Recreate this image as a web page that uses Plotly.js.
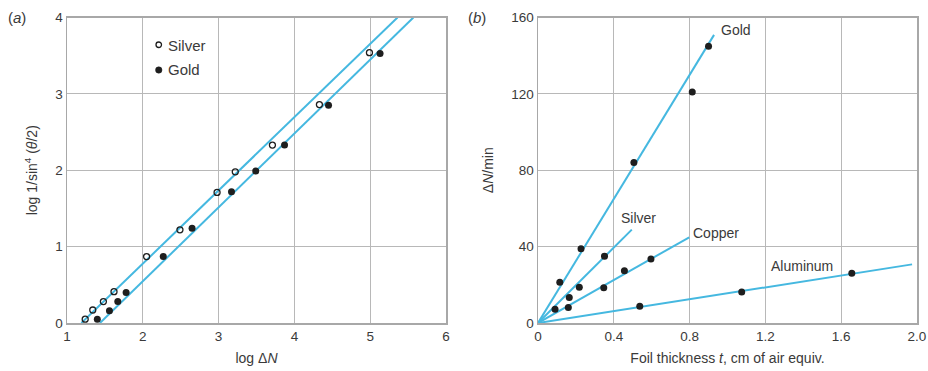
<!DOCTYPE html>
<html>
<head>
<meta charset="utf-8">
<script src="https://cdn.plot.ly/plotly-3.0.1.min.js"></script>
<style>html,body{margin:0;padding:0;background:#fff}#chart{width:928px;height:371px}</style>
</head>
<body>
<div id="chart"></div>
<script>
// Panel (a): log(1/sin^4(theta/2)) vs log ΔN
const silverLogN = [1.24, 1.34, 1.48, 1.62, 2.05, 2.49, 2.98, 3.22, 3.71, 4.33, 4.99];
const silverLogS = [0.05, 0.17, 0.28, 0.41, 0.87, 1.22, 1.71, 1.98, 2.33, 2.86, 3.54];
const goldLogN = [1.40, 1.56, 1.67, 1.78, 2.27, 2.65, 3.17, 3.49, 3.87, 4.45, 5.13];
const goldLogS = [0.05, 0.16, 0.28, 0.40, 0.87, 1.24, 1.72, 1.99, 2.33, 2.85, 3.53];
const silverFitX = [1.19, 5.36];
const silverFitY = [0, 4];
const goldFitX = [1.435, 5.57];
const goldFitY = [0, 4];
const legendNames = ['Silver', 'Gold'];

// Panel (b): ΔN/min vs foil thickness
const goldT = [0.115, 0.227, 0.506, 0.814, 0.900];
const goldRate = [21.3, 38.9, 84.0, 121.0, 145.0];
const silverT = [0.090, 0.165, 0.218, 0.351];
const silverRate = [7.2, 13.4, 18.7, 35.0];
const copperT = [0.160, 0.347, 0.456, 0.596];
const copperRate = [8.1, 18.5, 27.4, 33.5];
const aluminumT = [0.537, 1.075, 1.656];
const aluminumRate = [8.8, 16.2, 26.0];
const goldLineT = [0, 0.929], goldLineR = [0, 150.9];
const silverLineT = [0, 0.495], silverLineR = [0, 48.9];
const copperLineT = [0, 0.798], copperLineR = [0, 44.9];
const aluminumLineT = [0, 1.974], aluminumLineR = [0, 30.7];
const lineLabels = ['Gold', 'Silver', 'Copper', 'Aluminum'];

const xTicksA = [1, 2, 3, 4, 5, 6];
const yTicksA = [0, 1, 2, 3, 4];
const xTicksB = [0, 0.4, 0.8, 1.2, 1.6, 2.0];
const xTickTextB = ['0', '0.4', '0.8', '1.2', '1.6', '2.0'];
const yTicksB = [0, 40, 80, 120, 160];

const lineColor = '#45b8e0';
const dotColor = '#1e1e1e';
const fitLine = {color: lineColor, width: 2};

function line(x, y, xa, ya) {
  return {x: x, y: y, xaxis: xa, yaxis: ya, mode: 'lines', line: fitLine, showlegend: false, hoverinfo: 'skip'};
}
function dots(x, y, xa, ya, name, open) {
  return {x: x, y: y, xaxis: xa, yaxis: ya, mode: 'markers', name: name, showlegend: false,
    marker: open ? {symbol: 'circle-open', size: 6, color: dotColor, line: {width: 1.3, color: dotColor}}
                 : {symbol: 'circle', size: 7, color: dotColor}};
}

const traces = [
  line(silverFitX, silverFitY, 'x', 'y'),
  line(goldFitX, goldFitY, 'x', 'y'),
  dots(silverLogN, silverLogS, 'x', 'y', 'Silver', true),
  dots(goldLogN, goldLogS, 'x', 'y', 'Gold', false),
  line(goldLineT, goldLineR, 'x2', 'y2'),
  line(silverLineT, silverLineR, 'x2', 'y2'),
  line(copperLineT, copperLineR, 'x2', 'y2'),
  line(aluminumLineT, aluminumLineR, 'x2', 'y2'),
  dots(goldT, goldRate, 'x2', 'y2', 'Gold', false),
  dots(silverT, silverRate, 'x2', 'y2', 'Silver', false),
  dots(copperT, copperRate, 'x2', 'y2', 'Copper', false),
  dots(aluminumT, aluminumRate, 'x2', 'y2', 'Aluminum', false)
];

const W = 928, H = 371;
const px = v => v / W, py = v => 1 - v / H;

const font = {family: 'Liberation Sans, Arial, sans-serif', size: 13, color: '#3a3a3a'};
const axisBase = {
  showgrid: true, gridcolor: '#b8b8b8', gridwidth: 1,
  showline: true, linecolor: '#a8a8a8', linewidth: 1.5, mirror: true,
  zeroline: false, ticks: '', tickfont: {size: 13.5, color: '#3a3a3a'}, fixedrange: true
};
const yDomain = [1 - 323 / H, 1 - 17.5 / H];

// manual legend for panel (a)
const legendShapes = [
  {type: 'circle', xref: 'paper', yref: 'paper', x0: px(156), x1: px(161.5), y0: py(47.5), y1: py(42),
    line: {color: dotColor, width: 1.3}, fillcolor: 'rgba(0,0,0,0)'},
  {type: 'circle', xref: 'paper', yref: 'paper', x0: px(155.5), x1: px(162), y0: py(73.2), y1: py(66.8),
    line: {color: dotColor, width: 0.5}, fillcolor: dotColor}
];
const legendAnn = [
  {text: legendNames[0], xref: 'paper', yref: 'paper', x: px(166), y: py(45), xanchor: 'left', yanchor: 'middle', showarrow: false, font: {size: 15}},
  {text: legendNames[1], xref: 'paper', yref: 'paper', x: px(166), y: py(70), xanchor: 'left', yanchor: 'middle', showarrow: false, font: {size: 15}}
];

const layout = {
  width: W, height: H,
  margin: {l: 0, r: 0, t: 0, b: 0},
  paper_bgcolor: '#fff', plot_bgcolor: '#fff',
  font: font,
  showlegend: false,
  xaxis: Object.assign({}, axisBase, {domain: [67 / W, 446 / W], range: [1, 6], tickvals: xTicksA, anchor: 'y',
    title: {text: 'log Δ<i>N</i>', standoff: 10, font: {size: 14}}}),
  yaxis: Object.assign({}, axisBase, {domain: yDomain, range: [0, 4], tickvals: yTicksA, anchor: 'x',
    title: {text: 'log 1/sin<sup>4</sup> (<i>θ</i>/2)', standoff: 14, font: {size: 14}}}),
  xaxis2: Object.assign({}, axisBase, {domain: [538 / W, 917 / W], range: [0, 2.0], tickvals: xTicksB, ticktext: xTickTextB, anchor: 'y2',
    title: {text: 'Foil thickness <i>t</i>, cm of air equiv.', standoff: 10, font: {size: 14}}}),
  yaxis2: Object.assign({}, axisBase, {domain: yDomain, range: [0, 160], tickvals: yTicksB, anchor: 'x2',
    title: {text: 'Δ<i>N</i>/min', standoff: 14, font: {size: 14}}}),
  shapes: legendShapes,
  annotations: legendAnn.concat([
    {text: '(<i>a</i>)', xref: 'paper', yref: 'paper', x: px(6), y: py(18), xanchor: 'left', yanchor: 'middle', showarrow: false, font: {size: 15}},
    {text: '(<i>b</i>)', xref: 'paper', yref: 'paper', x: px(466), y: py(18), xanchor: 'left', yanchor: 'middle', showarrow: false, font: {size: 15}},
    {text: lineLabels[0], xref: 'x2', yref: 'y2', x: 0.955, y: 153.5, xanchor: 'left', yanchor: 'middle', showarrow: false, font: {size: 14}},
    {text: lineLabels[1], xref: 'x2', yref: 'y2', x: 0.43, y: 55, xanchor: 'left', yanchor: 'middle', showarrow: false, font: {size: 14}},
    {text: lineLabels[2], xref: 'x2', yref: 'y2', x: 0.81, y: 47, xanchor: 'left', yanchor: 'middle', showarrow: false, font: {size: 14}},
    {text: lineLabels[3], xref: 'x2', yref: 'y2', x: 1.22, y: 30, xanchor: 'left', yanchor: 'middle', showarrow: false, font: {size: 14}}
  ])
};

Plotly.newPlot('chart', traces, layout, {staticPlot: true, displayModeBar: false});
</script>
</body>
</html>
